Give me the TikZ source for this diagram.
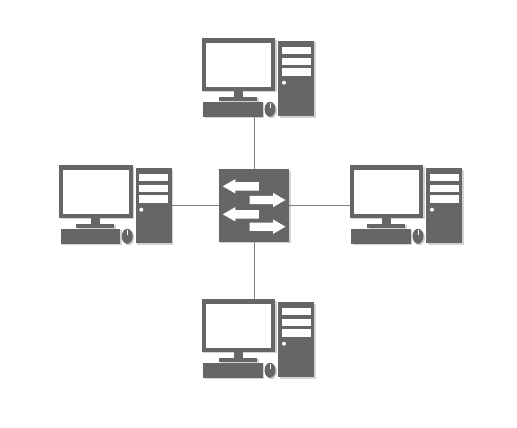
\documentclass[tikz,border=0pt]{standalone}
\usepackage{xcolor}
\usetikzlibrary{positioning,shapes.geometric,shapes.arrows,shadows}

\definecolor{pcgray}{HTML}{666666}

\tikzset{
  part/.style={rectangle, fill=pcgray, inner sep=0pt, outer sep=0pt},
  shadowed/.style={drop shadow={shadow xshift=1.5pt, shadow yshift=-1.5pt, fill=black!22, opacity=0.8}},
  bay/.style={rectangle, fill=white, inner sep=0pt, minimum width=29.5pt, minimum height=7.5pt},
  flow/.style={single arrow, fill=white, anchor=tail, inner xsep=0pt, inner ysep=4pt, minimum height=36pt,
    single arrow head extend=3pt, single arrow tip angle=60},
  link/.style={draw=black!50, line width=1.2pt},
  computer/.pic={
    % monitor
    \node[part, shadowed, minimum width=73.5pt, minimum height=52.5pt] (-mon) at (238.5,64.7) {};
    \node[bay, minimum width=65.5pt, minimum height=44pt] (-screen) at (238.5,64.7) {};
    \node[part, minimum width=9pt, minimum height=7pt] (-stand) at (238.5,94.5) {};
    \node[part, shadowed, minimum width=38pt, minimum height=4pt] (-base) at (238,98.6) {};
    % keyboard and mouse
    \node[part, shadowed, minimum width=59.5pt, minimum height=14.7pt] (-kbd) at (233,109.3) {};
    \node[ellipse, fill=pcgray, shadowed, inner sep=0pt, minimum width=11pt, minimum height=15pt] (-mouse) at (270,109.3) {};
    \node[rectangle, fill=white, inner sep=0pt, minimum width=0.8pt, minimum height=5pt] (-wheel) at (270,105) {};
    % tower
    \node[part, shadowed, minimum width=36pt, minimum height=75pt] (-tower) at (296.3,78.5) {};
    \node[bay] (-bayA) at (296.3,50.3) {};
    \node[bay] (-bayB) at (296.3,61.3) {};
    \node[bay] (-bayC) at (296.3,72) {};
    \node[circle, fill=white, inner sep=0pt, minimum size=4pt] (-led) at (284,82.7) {};
  }
}

\begin{document}
\begin{tikzpicture}[x=1pt, y=-1pt]
  \useasboundingbox (0,0) rectangle (517,428);

  \pic (top) at (0,0) {computer};
  \pic (left) at (-142.7,127) {computer};
  \pic (right) at (148,127) {computer};
  \pic (bot) at (0,261) {computer};

  \node[part, shadowed, minimum width=70.5pt, minimum height=72.5pt] (sw) at (254.2,205.3) {};
  \node[flow, shape border rotate=180] (f1) at (259,186.3) {};
  \node[flow] (f2) at (249.3,200) {};
  \node[flow, shape border rotate=180] (f3) at (259,214.3) {};
  \node[flow] (f4) at (249.3,226.7) {};

  \draw[link] (sw.north) -- (sw.north |- top-kbd.south);
  \draw[link] (sw.south) -- (sw.south |- bot-mon.north);
  \draw[link] (sw.west) -- (sw.west -| left-tower.east);
  \draw[link] (sw.east) -- (sw.east -| right-mon.west);
\end{tikzpicture}
\end{document}
